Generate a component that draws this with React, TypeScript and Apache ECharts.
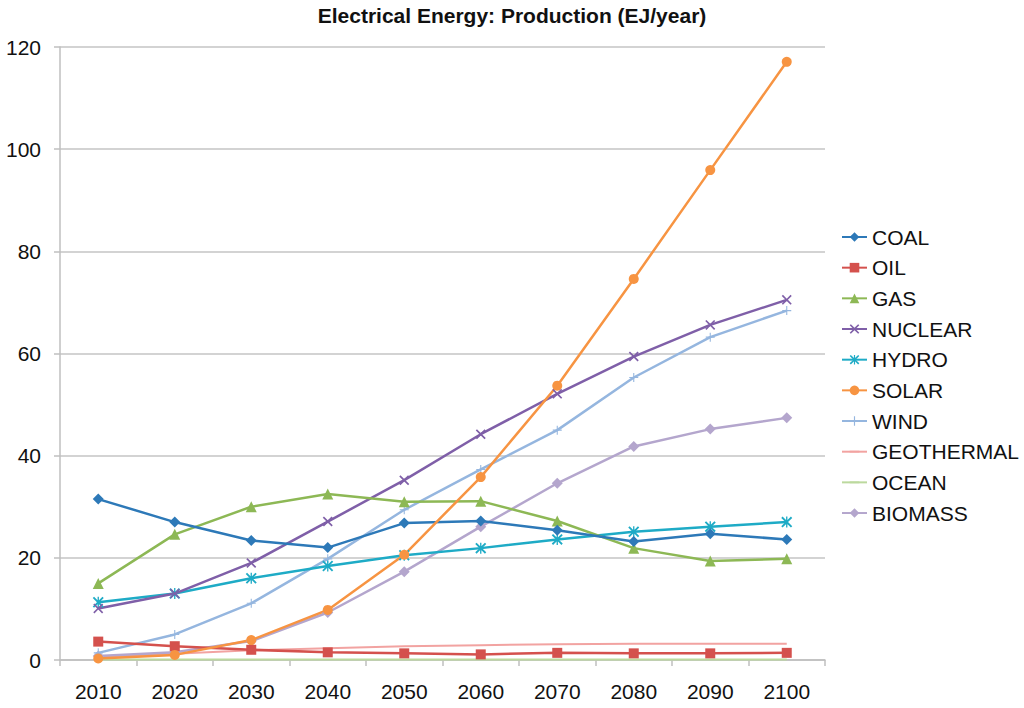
import React, { useEffect, useRef } from "react";
import * as echarts from "echarts";

const years = ["2010", "2020", "2030", "2040", "2050", "2060", "2070", "2080", "2090", "2100"];
const coal = [31.5, 27.0, 23.4, 22.0, 26.8, 27.2, 25.4, 23.2, 24.7, 23.6];
const oil = [3.6, 2.7, 2.0, 1.5, 1.3, 1.1, 1.4, 1.3, 1.3, 1.4];
const gas = [15.0, 24.6, 30.0, 32.5, 31.0, 31.1, 27.2, 21.9, 19.4, 19.8];
const nuclear = [10.1, 13.0, 19.0, 27.1, 35.2, 44.2, 52.1, 59.4, 65.6, 70.5];
const hydro = [11.3, 13.0, 16.0, 18.4, 20.5, 21.9, 23.6, 25.1, 26.1, 27.0];
const solar = [0.3, 1.0, 3.9, 9.8, 20.6, 35.8, 53.7, 74.6, 95.9, 117.1];
const wind = [1.4, 5.0, 11.1, 19.8, 29.4, 37.3, 45.0, 55.3, 63.2, 68.4];
const geothermal = [0.6, 1.2, 1.9, 2.3, 2.7, 2.9, 3.1, 3.2, 3.2, 3.2];
const ocean = [0.1, 0.1, 0.1, 0.1, 0.1, 0.1, 0.1, 0.1, 0.1, 0.1];
const biomass = [0.8, 1.5, 3.7, 9.3, 17.3, 26.1, 34.6, 41.8, 45.2, 47.4];
const yTicks = [0, 20, 40, 60, 80, 100, 120];

const X_PATH = "path://M0,1.2 L1.2,0 L5,3.8 L8.8,0 L10,1.2 L6.2,5 L10,8.8 L8.8,10 L5,6.2 L1.2,10 L0,8.8 L3.8,5 Z";
const PLUS_PATH = "path://M4.4,0 H5.6 V4.4 H10 V5.6 H5.6 V10 H4.4 V5.6 H0 V4.4 H4.4 Z";
const STAR_PATH =
  "path://M0,1.2 L1.2,0 L5,3.8 L8.8,0 L10,1.2 L6.2,5 L10,8.8 L8.8,10 L5,6.2 L1.2,10 L0,8.8 L3.8,5 Z M4.4,0 H5.6 V10 H4.4 Z";
const DASH_PATH = "path://M0,0 L0.01,0 L0,0.01 Z M9.99,10 L10,10 L10,9.99 Z M0,4.1 H10 V5.9 H0 Z";

export default function App() {
  const ref = useRef<HTMLDivElement>(null);
  useEffect(() => {
    if (!ref.current) return;
    const chart = echarts.init(ref.current, undefined, { renderer: "svg" });
    const mk = (name: string, data: number[], color: string, symbol: string, size: number, width = 2.5, show = true) => ({
      name,
      type: "line",
      data,
      color,
      symbol,
      symbolSize: size,
      showSymbol: show,
      lineStyle: { color, width },
      itemStyle: { color },
    });
    chart.setOption({
      animation: false,
      backgroundColor: "#ffffff",
      textStyle: { fontFamily: "Liberation Sans, Arial, sans-serif" },
      title: {
        text: "Electrical Energy: Production (EJ/year)",
        left: "center",
        top: 0,
        textStyle: { fontSize: 21, fontWeight: "bold", color: "#111", fontFamily: "Liberation Sans, Arial, sans-serif" },
      },
      legend: {
        orient: "vertical",
        left: 836,
        top: 221.5,
        itemWidth: 25,
        itemHeight: 12,
        itemGap: 9.67,
        textStyle: { fontSize: 21, color: "#111" },
        data: ["COAL", "OIL", "GAS", "NUCLEAR", "HYDRO", "SOLAR", "WIND", "GEOTHERMAL", "OCEAN", "BIOMASS"],
      },
      grid: { left: 60, right: 199, top: 47, bottom: 48, containLabel: false },
      xAxis: {
        type: "category",
        data: years,
        boundaryGap: true,
        axisLine: { lineStyle: { color: "#bfbfbf", width: 1.5 } },
        axisTick: { show: true, length: 6, lineStyle: { color: "#bfbfbf", width: 1.5 } },
        axisLabel: { fontSize: 21, color: "#111", margin: 21 },
      },
      yAxis: {
        type: "value",
        min: 0,
        max: 120,
        interval: 20,
        axisLine: { show: true, lineStyle: { color: "#bfbfbf", width: 1.5 } },
        axisTick: { show: true, length: 6, lineStyle: { color: "#bfbfbf", width: 1.5 } },
        axisLabel: {
          fontSize: 21,
          color: "#111",
          margin: 19,
          formatter: (v: number) => (yTicks.includes(v) ? String(v) : ""),
        },
        splitLine: { show: true, lineStyle: { color: "#c4c4c4", width: 1.5 } },
      },
      series: [
        mk("GEOTHERMAL", geothermal, "#f2a3a1", DASH_PATH, 8, 2, false),
        mk("OCEAN", ocean, "#bcd99e", DASH_PATH, 8, 2, false),
        mk("BIOMASS", biomass, "#b4a6cd", "diamond", 11),
        mk("WIND", wind, "#95b6df", PLUS_PATH, 9),
        mk("HYDRO", hydro, "#1eabc6", STAR_PATH, 11),
        mk("NUCLEAR", nuclear, "#7f5fa8", X_PATH, 10),
        mk("GAS", gas, "#8db855", "triangle", 11),
        mk("OIL", oil, "#d4514d", "rect", 10),
        mk("COAL", coal, "#2d79b8", "diamond", 11),
        mk("SOLAR", solar, "#f79442", "circle", 10),
      ],
    });
    return () => chart.dispose();
  }, []);
  return <div ref={ref} style={{ position: "absolute", left: 0, top: 0, width: 1024, height: 708 }} />;
}
